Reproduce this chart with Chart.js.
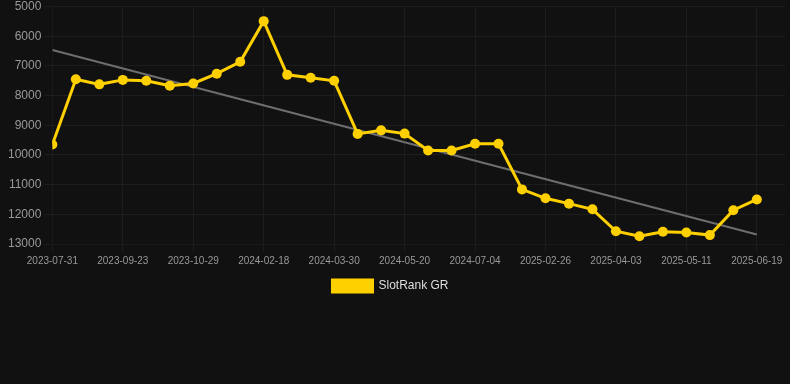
<!DOCTYPE html>
<html>
<head>
<meta charset="utf-8">
<script src="https://cdn.jsdelivr.net/npm/chart.js@4"></script>
<style>
  html, body { margin: 0; padding: 0; background: #111111; }
  #wrap { width: 790px; height: 302px; }
</style>
</head>
<body>
<div id="wrap"><canvas id="rankChart"></canvas></div>
<script>
// tick labels, one every 3rd point
const tickLabels = ["2023-07-31", "2023-09-23", "2023-10-29", "2024-02-18", "2024-03-30",
  "2024-05-20", "2024-07-04", "2025-02-26", "2025-04-03", "2025-05-11", "2025-06-19"];

// rank values per point
const rankValues = [9650, 7450, 7620, 7470, 7500, 7670, 7590, 7260, 6860, 5490,
  7300, 7400, 7500, 9290, 9170, 9280, 9850, 9850, 9620, 9620,
  11160, 11460, 11640, 11830, 12570, 12740, 12590, 12610, 12700, 11860, 11500];

// trend line ends
const trendValues = [6460, 12680];

const gold = "rgb(255, 208, 0)";
const gridColor = "#1d1d1d";

// legend sits a little left of centre in the original
const legendShift = {
  id: "legendShift",
  afterLayout(chart) {
    chart.legend.right -= 14;
  }
};

new Chart(document.getElementById("rankChart"), {
  type: "line",
  data: {
    datasets: [{
      label: "SlotRank GR",
      data: rankValues.map((v, i) => ({ x: i, y: v })),
      borderColor: gold,
      backgroundColor: gold,
      borderWidth: 3,
      pointRadius: 5,
      pointBackgroundColor: gold,
      pointBorderWidth: 0,
      tension: 0
    }, {
      label: "trend",
      data: [{ x: 0, y: trendValues[0] }, { x: rankValues.length - 1, y: trendValues[1] }],
      borderColor: "#6e6e6e",
      borderWidth: 2,
      pointRadius: 0
    }]
  },
  options: {
    responsive: true,
    maintainAspectRatio: false,
    animation: false,
    layout: { padding: { left: 5 } },
    scales: {
      x: {
        type: "linear",
        min: 0,
        max: 31.2,
        grid: { color: gridColor },
        ticks: {
          stepSize: 3,
          includeBounds: false,
          maxRotation: 0,
          color: "#999",
          font: { size: 10 },
          callback: v => tickLabels[v / 3] || ""
        }
      },
      y: {
        reverse: true,
        min: 5000,
        max: 13000,
        grid: { color: gridColor },
        ticks: {
          stepSize: 1000,
          color: "#999",
          font: { size: 12, lineHeight: 0.6 },
          callback: v => String(v)
        }
      }
    },
    plugins: {
      legend: {
        position: "bottom",
        labels: {
          color: "#ddd",
          font: { size: 12 },
          boxWidth: 40,
          filter: item => item.text !== "trend"
        }
      },
      tooltip: { enabled: false }
    }
  },
  plugins: [legendShift]
});
</script>
</body>
</html>
